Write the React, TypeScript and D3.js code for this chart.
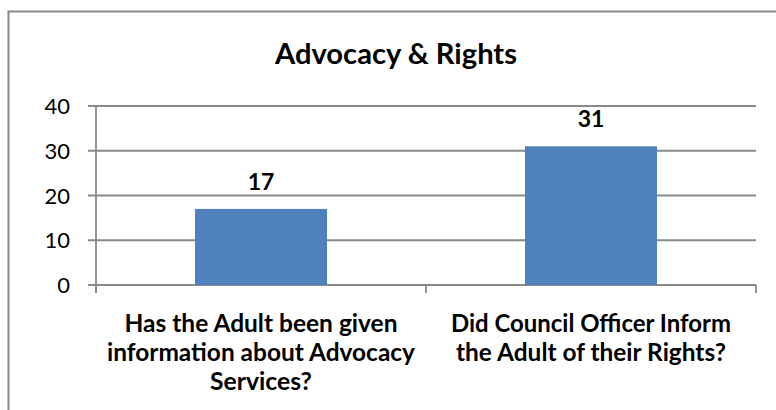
import React from "react";
import * as d3 from "d3";

const categories = [
  "Has the Adult been given information about Advocacy Services?",
  "Did Council Officer Inform the Adult of their Rights?",
];
const categoryLines = [
  ["Has the Adult been given", "information about Advocacy", "Services?"],
  ["Did Council Officer Inform", "the Adult of their Rights?"],
];
// measured widths of the wrapped label lines in the reference
const categoryLineWidths = [
  [273, 308, 102],
  [280, 270],
];
const values = [17, 31];
const yTicks = [0, 10, 20, 30, 40];

const W = 776;
const H = 410;
const font = "Lato, 'Open Sans', sans-serif";
const grey = "#898989";

export default function App() {
  const x = d3.scaleBand<string>().domain(categories).range([96, 756]).paddingInner(0).paddingOuter(0);
  const y = d3.scaleLinear().domain([0, 40]).range([285, 106]);
  const barW = x.bandwidth() * 0.4;

  return (
    <svg
      width={W}
      height={H}
      style={{ position: "absolute", left: 0, top: 0, background: "#fff" }}
    >
      <rect x={8.5} y={11.5} width={W + 20} height={H + 20} fill="#fff" stroke={grey} strokeWidth={2} />

      <text
        x={396}
        y={64}
        textAnchor="middle"
        fontFamily={font}
        fontWeight="bold"
        fontSize={29}
        textLength={242}
        lengthAdjust="spacingAndGlyphs"
        fill="#000"
      >
        Advocacy &amp; Rights
      </text>

      {/* gridlines + y ticks */}
      {yTicks.map((t) => (
        <g key={t}>
          <line x1={88} x2={756} y1={y(t)} y2={y(t)} stroke={grey} strokeWidth={1.8} />
          <text x={70} y={y(t) + 8} textAnchor="end" fontFamily={font} fontSize={22} fill="#000">
            {t}
          </text>
        </g>
      ))}

      {/* y axis */}
      <line x1={96} x2={96} y1={y(40)} y2={y(0) + 8} stroke={grey} strokeWidth={1.8} />

      {/* x ticks */}
      {[...categories.map((c) => x(c)!), 756].map((px, i) => (
        <line key={i} x1={px} x2={px} y1={y(0)} y2={y(0) + 8} stroke={grey} strokeWidth={1.8} />
      ))}

      {/* bars */}
      {categories.map((c, i) => {
        const cx = x(c)! + x.bandwidth() / 2;
        return (
          <g key={c}>
            <rect x={cx - barW / 2} y={y(values[i])} width={barW} height={y(0) - y(values[i])} fill="#4F81BD" />
            <text x={cx} y={y(values[i]) - 19} textAnchor="middle" fontFamily={font} fontWeight="bold" fontSize={23} fill="#000">
              {values[i]}
            </text>
          </g>
        );
      })}

      {/* category labels */}
      {categories.map((c, i) => {
        const cx = x(c)! + x.bandwidth() / 2;
        return categoryLines[i].map((l, j) => (
          <text
            key={c + j}
            x={cx}
            y={332 + j * 29}
            textAnchor="middle"
            fontFamily={font}
            fontWeight="bold"
            fontSize={24}
            textLength={categoryLineWidths[i][j]}
            lengthAdjust="spacingAndGlyphs"
            fill="#000"
          >
            {l}
          </text>
        ));
      })}
    </svg>
  );
}
